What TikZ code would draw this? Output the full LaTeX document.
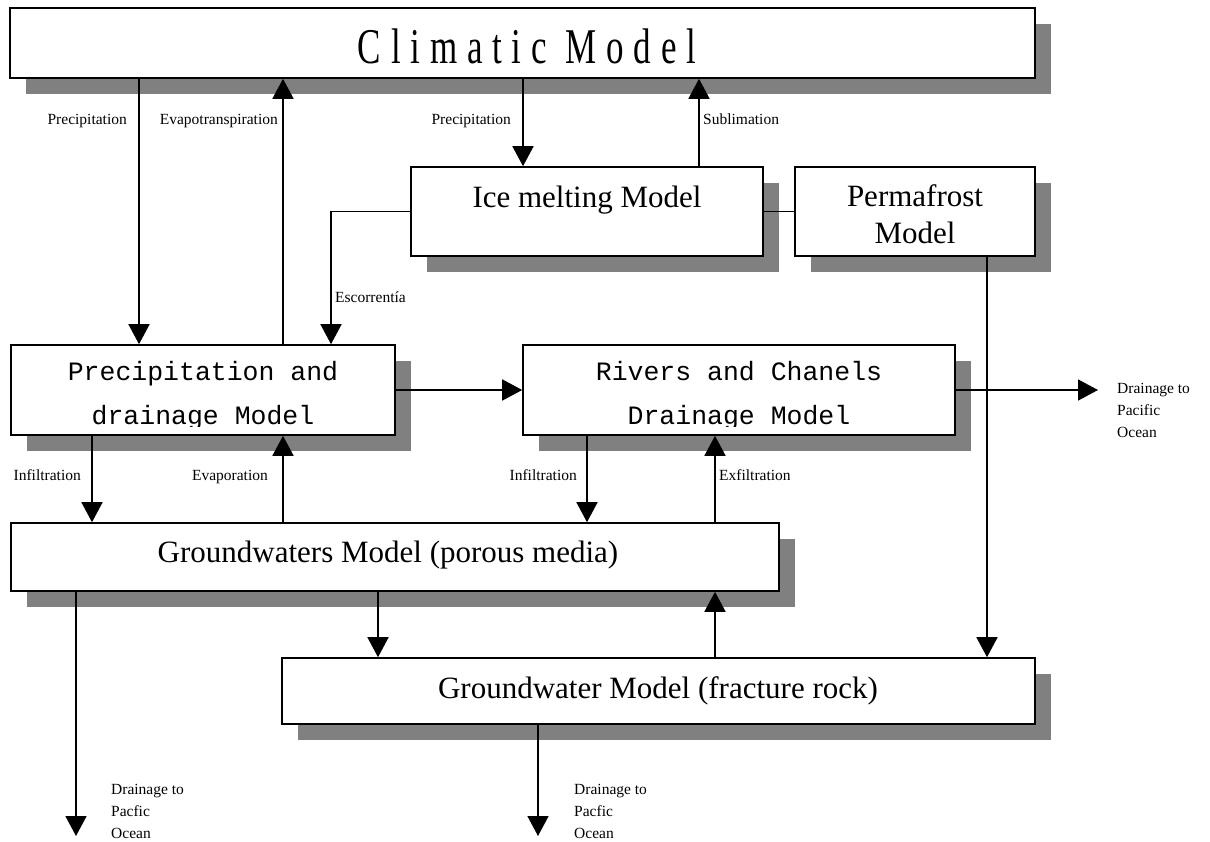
\documentclass[tikz,border=0pt]{standalone}
\usepackage{graphicx}
\usepackage{fontspec}
\setmainfont{Liberation Serif}
\newfontfamily\monof{Liberation Mono}
\newfontfamily\titlef[LetterSpace=28]{Liberation Serif}
\usetikzlibrary{arrows.meta,shadows,calc}
\definecolor{shgray}{RGB}{128,128,128}
\tikzset{
 box/.style={draw, line width=1.6pt, fill=white, inner sep=0pt,
   drop shadow={shadow xshift=16pt, shadow yshift=-16pt, fill=shgray, opacity=1}},
 conn/.style={line width=1.6pt},
 arr/.style={conn, -{Triangle[length=20pt,width=21pt]}},
 lbl/.style={inner sep=0pt, font=\fontsize{15.5}{18}\selectfont},
 big/.style={inner sep=0pt, font=\fontsize{31}{36}\selectfont},
 mono/.style={inner sep=0pt, font=\monof\fontsize{26.5}{44}\selectfont},
 drn/.style={inner sep=0pt, align=left, anchor=north west, font=\fontsize{15.5}{22}\selectfont},
}
\begin{document}
\begin{tikzpicture}[x=1pt,y=-1pt]
\useasboundingbox (0,0) rectangle (1210,841);
% boxes
\node[box, minimum width=1025pt, minimum height=70pt] (clim) at (522.5,43) {};
\node[box, minimum width=352pt, minimum height=89pt] (ice) at (587,211.5) {};
\node[box, minimum width=240pt, minimum height=89pt] (perm) at (915,211.5) {};
\node[box, minimum width=384pt, minimum height=90pt] (pd) at (203,390) {};
\node[box, minimum width=432pt, minimum height=90pt] (riv) at (739,390) {};
\node[box, minimum width=768pt, minimum height=68pt] (gw) at (395,557) {};
\node[box, minimum width=753pt, minimum height=66pt] (fr) at (658.5,691) {};
% box texts
\node[anchor=base, inner sep=0pt] (climT) at (527,63) {\titlef\fontsize{50}{50}\selectfont\scalebox{0.7}[1]{Climatic Model}};
\node[big, anchor=base] (iceT) at (587,207) {Ice melting Model};
\node[big, anchor=base] (permA) at (915,206) {Permafrost};
\node[big, anchor=base] (permB) at (915,243) {Model};
\node[big, anchor=base] (gwT) at (388,562) {Groundwaters Model (porous media)};
\node[big, anchor=base] (frT) at (658,698) {Groundwater Model (fracture rock)};
\begin{scope}
\clip ([shift={(0pt,9pt)}]pd.south west) rectangle (pd.north east);
\node[mono, anchor=base] (pdA) at (203,380) {Precipitation and};
\node[mono, anchor=base] (pdB) at (203,424) {drainage Model};
\end{scope}
\begin{scope}
\clip ([shift={(0pt,9pt)}]riv.south west) rectangle (riv.north east);
\node[mono, anchor=base] (rvA) at (739,380) {Rivers and Chanels};
\node[mono, anchor=base] (rvB) at (739,424) {Drainage Model};
\end{scope}
% labels
\node[lbl, anchor=base east] (lp1) at (127,124) {Precipitation};
\node[lbl, anchor=base east] (lev) at (278,124) {Evapotranspiration};
\node[lbl, anchor=base east] (lp2) at (511,124) {Precipitation};
\node[lbl, anchor=base west] (lsub) at (703,124) {Sublimation};
\node[lbl, anchor=base west] (lesc) at (335,302) {Escorrentía};
\node[lbl, anchor=base east] (lin1) at (81,480) {Infiltration};
\node[lbl, anchor=base east] (levp) at (268,480) {Evaporation};
\node[lbl, anchor=base east] (lin2) at (577,480) {Infiltration};
\node[lbl, anchor=base west] (lexf) at (719,480) {Exfiltration};
\node[drn] (dtR) at (1117,383.5) {Drainage to\\Pacific\\Ocean};
\node[drn] (dtL) at (111,784.5) {Drainage to\\Pacfic\\Ocean};
\node[drn] (dtM) at (574,784.5) {Drainage to\\Pacfic\\Ocean};
% x positions of vertical connectors
\coordinate (xa) at (139,0);
\coordinate (xb) at (283,0);
\coordinate (xc) at (523,0);
\coordinate (xd) at (699,0);
\coordinate (xe) at (331,0);
\coordinate (xf) at (92,0);
\coordinate (xg) at (587,0);
\coordinate (xh) at (715,0);
\coordinate (xi) at (378,0);
\coordinate (xj) at (987,0);
\coordinate (xk) at (76,0);
\coordinate (xl) at (538,0);
\coordinate (d1) at (1098,390);
\coordinate (d2) at (76,836);
\coordinate (d3) at (538,836);
% connectors
\draw[arr] (clim.south -| xa) -- (pd.north -| xa);
\draw[arr] (pd.north -| xb) -- (clim.south -| xb);
\draw[arr] (clim.south -| xc) -- (ice.north -| xc);
\draw[arr] (ice.north -| xd) -- (clim.south -| xd);
\draw[arr] (ice.west) -| (pd.north -| xe);
\draw[conn] (ice.east) -- (perm.west);
\draw[arr] (pd.east) -- (riv.west);
\draw[arr] (riv.east) -- (d1);
\draw[arr] (pd.south -| xf) -- (gw.north -| xf);
\draw[arr] (gw.north -| xb) -- (pd.south -| xb);
\draw[arr] (riv.south -| xg) -- (gw.north -| xg);
\draw[arr] (gw.north -| xh) -- (riv.south -| xh);
\draw[arr] (gw.south -| xi) -- (fr.north -| xi);
\draw[arr] (fr.north -| xh) -- (gw.south -| xh);
\draw[arr] (perm.south -| xj) -- (fr.north -| xj);
\draw[arr] (gw.south -| xk) -- (d2);
\draw[arr] (fr.south -| xl) -- (d3);
\end{tikzpicture}
\end{document}
